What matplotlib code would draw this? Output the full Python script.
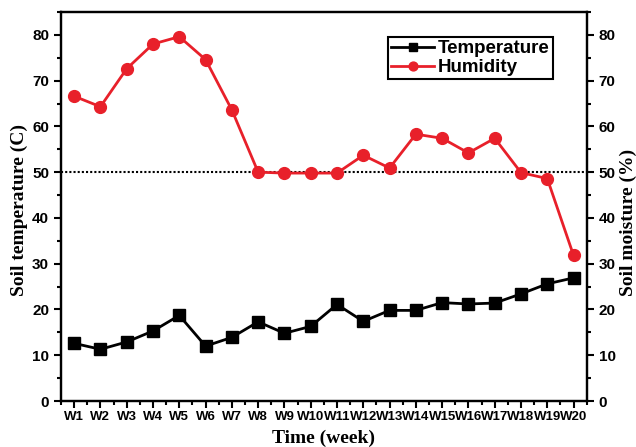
import numpy as np
import matplotlib
matplotlib.use("Agg")
import matplotlib.pyplot as plt
from matplotlib.ticker import MultipleLocator

# data
weeks = ["W%d" % i for i in range(1, 21)]
temperature = [12.6, 11.3, 12.9, 15.3, 18.7, 12.0, 13.9, 17.3, 14.8, 16.3,
               21.1, 17.4, 19.8, 19.8, 21.5, 21.2, 21.4, 23.4, 25.6, 26.9]
humidity = [66.6, 64.3, 72.6, 78.0, 79.6, 74.6, 63.6, 50.0, 49.8, 49.8,
            49.8, 53.7, 50.9, 58.3, 57.4, 54.2, 57.4, 49.9, 48.6, 31.8]
ref_level = 50

sans = "Liberation Sans"
serif = "Liberation Serif"

fig = plt.figure(figsize=(6.36, 4.47), dpi=100)
ax = fig.add_axes([0.0959, 0.1029, 0.8266, 0.8703])
ax2 = ax.twinx()

x = np.arange(1, len(weeks) + 1)

ax.axhline(ref_level, color="black", lw=1.5, ls=(0, (1, 1)), zorder=1)
l1, = ax.plot(x, temperature, color="black", lw=2, marker="s", ms=8,
              label="Temperature", zorder=3)
l2, = ax2.plot(x, humidity, color="#e8202a", lw=2, marker="o", ms=8.5,
               label="Humidity", zorder=3)

for a in (ax, ax2):
    a.set_ylim(0, 85)
    a.set_xlim(0.5, 20.5)
    a.yaxis.set_major_locator(MultipleLocator(10))
    a.yaxis.set_minor_locator(MultipleLocator(5))
    for s in a.spines.values():
        s.set_linewidth(1.6)

ax.set_xticks(x)
ax.set_xticklabels(weeks)
ax.xaxis.set_minor_locator(MultipleLocator(0.5))

ax.tick_params(axis="both", which="major", direction="out", length=5, width=1.5)
ax.tick_params(axis="both", which="minor", direction="out", length=3, width=1.5)
ax2.tick_params(axis="y", which="major", direction="out", length=5, width=1.5)
ax2.tick_params(axis="y", which="minor", direction="out", length=3, width=1.5)
ax.tick_params(axis="x", pad=2)

for lab in ax.get_xticklabels():
    lab.set_fontfamily(sans)
    lab.set_fontweight("bold")
    lab.set_fontsize(9.5)
for lab in ax.get_yticklabels() + ax2.get_yticklabels():
    lab.set_fontfamily(sans)
    lab.set_fontweight("bold")
    lab.set_fontsize(11)

ax.set_xlabel("Time (week)", fontfamily=serif, fontweight="bold", fontsize=14, labelpad=5)
ax.set_ylabel("Soil temperature (C)", fontfamily=serif, fontweight="bold", fontsize=14)
ax2.set_ylabel("Soil moisture (%)", fontfamily=serif, fontweight="bold", fontsize=14)
ax.yaxis.set_label_coords(-0.062, 0.49)
ax2.yaxis.set_label_coords(1.063, 0.46)

leg = ax2.legend(handles=[l1, l2], loc="upper right", bbox_to_anchor=(0.935, 0.935),
                 borderaxespad=0, fancybox=False, framealpha=1, edgecolor="black",
                 prop={"family": sans, "weight": "bold", "size": 13.5},
                 handlelength=2.3, handletextpad=0.2, borderpad=0.15,
                 labelspacing=0.1, markerscale=0.75)
leg.get_frame().set_linewidth(1.5)

fig.savefig("out.png", dpi=100)
